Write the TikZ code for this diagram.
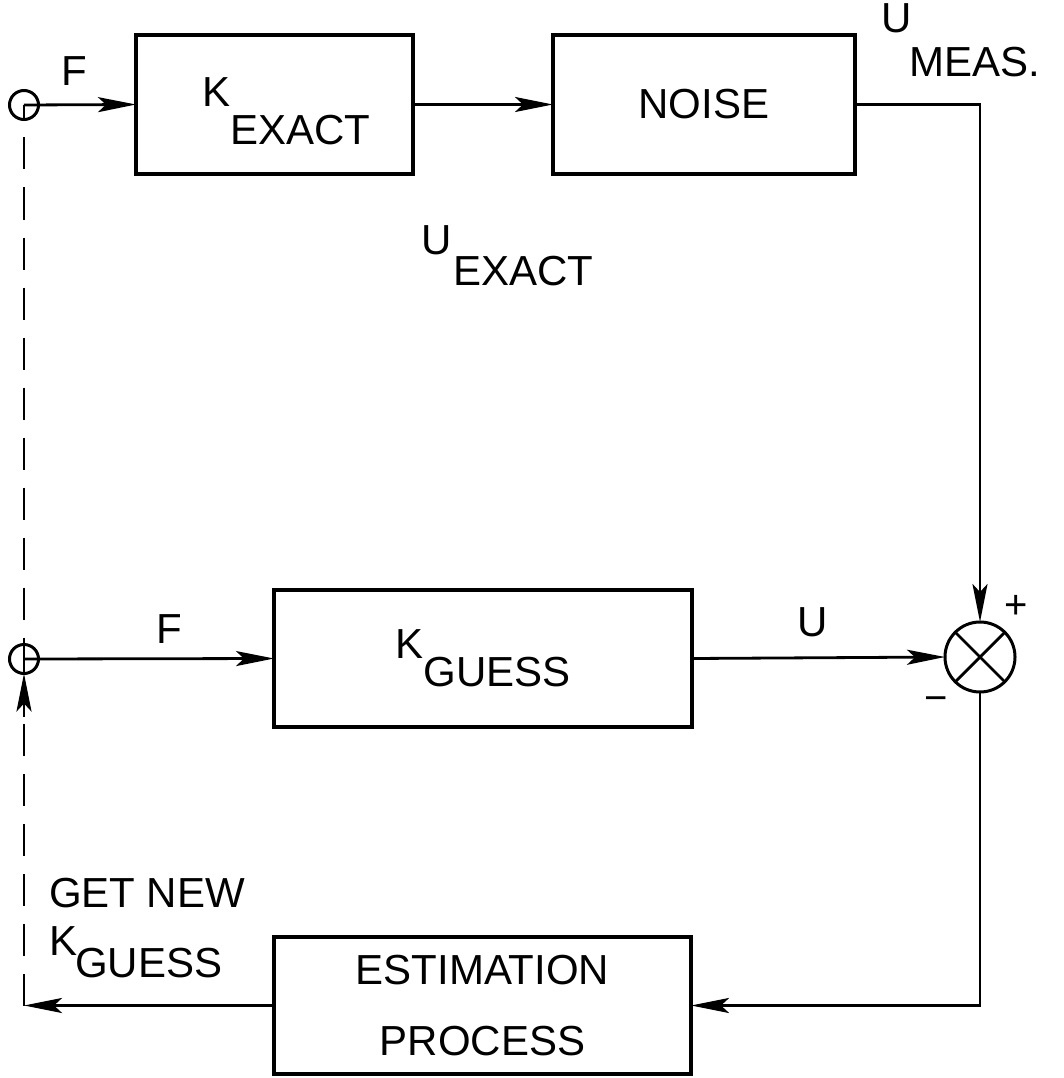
\documentclass[tikz,border=0pt]{standalone}
\usepackage{fontspec}
\newfontfamily\plotfont{Liberation Sans}
\usetikzlibrary{arrows.meta}
\begin{document}
\begin{tikzpicture}[x=1pt,y=-1pt,
  every node/.style={font=\plotfont\fontsize{42}{71}\selectfont, inner sep=0pt, outer sep=0pt},
  blk/.style={draw, rectangle, line width=3.2pt},
  ring/.style={draw, circle, line width=3pt},
  conn/.style={line width=2.8pt},
  arr/.style={conn, -{Stealth[length=38pt,width=15pt,inset=8pt]}},
  dsh/.style={line width=2.6pt, dash pattern=on 32pt off 18pt},
  lbl/.style={anchor=base west},
  sign/.style={font=\plotfont\fontsize{40}{40}\selectfont}]
\useasboundingbox (0,0) rectangle (1063,1078);

% blocks
\node[blk, minimum width=277pt, minimum height=139pt] (kexact) at (274.5,104.5)
  {\rule{0pt}{43pt}\hspace*{24pt}K\raisebox{-38pt}{EXACT}};
\node[blk, minimum width=302pt, minimum height=139pt] (noise) at (704,104.5) {NOISE};
\node[blk, minimum width=418pt, minimum height=137pt] (kguess) at (483,658.5)
  {K\raisebox{-28pt}{GUESS}};
\node[blk, minimum width=417pt, minimum height=137pt, align=center] (estim) at (482.5,1005.5)
  {ESTIMATION\\PROCESS};

% summing junction and input points
\node[ring, minimum size=70pt] (sum) at (980,657) {};
\node[ring, minimum size=29pt] (c1) at (24,105) {};
\node[ring, minimum size=29pt] (c2) at (24,659) {};
\coordinate (corner) at (24,1005.5);
\coordinate (tail) at (24,717);

% cross in summing junction
\draw[conn] (sum.45) -- (sum.225) (sum.135) -- (sum.-45);

% connectors
\draw[arr] (c1.center) -- (kexact.west);
\draw[arr] (kexact.east) -- (noise.west);
\draw[arr] (noise.east) -| (sum.north);
\draw[arr] (c2.center) -- (kguess.west);
\draw[arr] (kguess.east) -- (sum.west);
\draw[arr] (sum.south) |- (estim.east);
\draw[arr] (estim.west) -- (corner);

% dashed feedback path
\draw[conn] (c1.center) -- (c1.south);
\draw[dsh, dash phase=32pt] (c1.south) -- (c2.north);
\draw[conn] (c2.north) -- (c2.south);
\draw[arr] (tail) -- (c2.south);
\draw[dsh] (corner) -- (tail);

% labels
\node[lbl] (lF1) at (61,86) {F};
\node[lbl] (lF2) at (156,643) {F};
\node[lbl] (lU) at (797,636) {U};
\node[lbl] (lUe) at (421,254) {U};
\node[lbl] (lUe2) at (453,285) {EXACT};
\node[lbl] (lUm) at (881,33) {U};
\node[lbl] (lUm2) at (909,77) {MEAS.};
\node[lbl] (lget) at (49,907) {GET NEW};
\node[lbl] (lk) at (49,955) {K};
\node[lbl] (lguess) at (75,977) {GUESS};
\node[sign] (plus) at (1016,607) {+};
\node[sign] (minus) at (936,704) {−};
\end{tikzpicture}
\end{document}
